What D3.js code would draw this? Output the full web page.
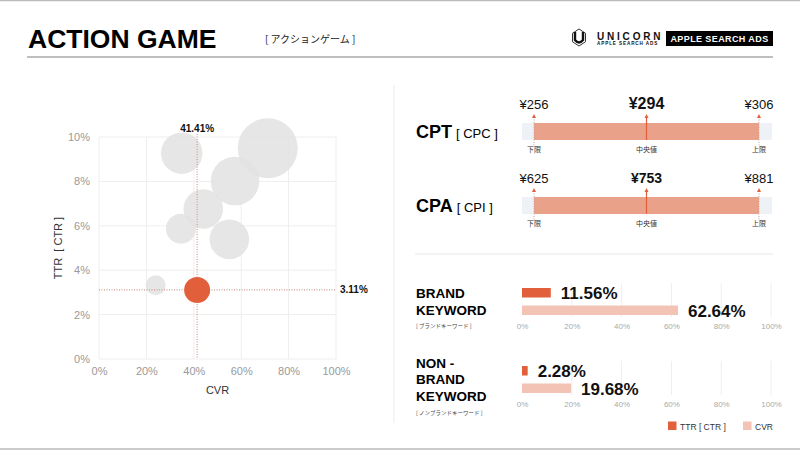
<!DOCTYPE html>
<html><head><meta charset="utf-8">
<script src="https://cdn.jsdelivr.net/npm/d3@7"></script>
<style>
html,body{margin:0;padding:0;background:#fff;}
svg{display:block;font-family:"Liberation Sans",Arial,Helvetica,sans-serif;}
.jp{font-family:"Noto Sans CJK JP","Liberation Sans",sans-serif;}
</style></head>
<body><svg id="c" width="800" height="450"></svg>
<script>
// ---------- DATA ----------
const bubbleCVR  = [71.2, 34.9, 57.4, 44.0, 34.6, 55.0, 23.9];
const bubbleTTR  = [9.49, 9.27, 8.02, 6.76, 5.87, 5.39, 3.32];
const bubbleSize = [900, 430, 590, 390, 225, 392, 100];
const focusCVR = 41.41, focusTTR = 3.11, focusSize = 169;
const xTicks = [0, 20, 40, 60, 80, 100];
const yTicks = [0, 2, 4, 6, 8, 10];

const costNames  = ["CPT", "CPA"];
const costSubs   = ["[ CPC ]", "[ CPI ]"];
const costLower  = [256, 625];
const costMedian = [294, 753];
const costUpper  = [306, 881];
const rangeLabels = ["下限", "中央値", "上限"];

const kwLines = [["BRAND", "KEYWORD"], ["NON -", "BRAND", "KEYWORD"]];
const kwSubs  = ["[ ブランドキーワード ]", "[ ノンブランドキーワード ]"];
const kwTTR   = [11.56, 2.28];
const kwCVR   = [62.64, 19.68];
const legendLabels = ["TTR [ CTR ]", "CVR"];

// ---------- STYLE ----------
const ORANGE = "#e1603b", SALMON = "#e9a18a", LIGHT = "#f3c3b5", GRAY = "#e2e2e2";
const svg = d3.select("#c");

// frame lines
svg.append("line").attr("x1",0).attr("x2",800).attr("y1",0.5).attr("y2",0.5).attr("stroke","#bbb").attr("stroke-width",1.5);
svg.append("line").attr("x1",0).attr("x2",800).attr("y1",449).attr("y2",449).attr("stroke","#bbb").attr("stroke-width",1.5);

// header
svg.append("text").attr("x",28).attr("y",48).attr("font-size",26.5).attr("font-weight","bold").attr("fill","#000").text("ACTION GAME");
svg.append("text").attr("class","jp").attr("x",265).attr("y",42.5).attr("font-size",10).attr("fill","#222").text("[ アクションゲーム ]");
svg.append("line").attr("x1",27).attr("x2",773).attr("y1",57).attr("y2",57).attr("stroke","#aaa").attr("stroke-width",1.5);

// logo
const hex = d3.range(6).map(i => { const a = Math.PI/3*i + Math.PI/6; return [579 + 7.5*Math.cos(a), 37.5 + 8.5*Math.sin(a)]; });
svg.append("polygon").attr("points", hex.map(p=>p.join(",")).join(" ")).attr("fill","none").attr("stroke","#333").attr("stroke-width",1);
svg.append("path").attr("d","M575,32 L575,40 Q579,45 583,40 L583,32").attr("fill","none").attr("stroke","#111").attr("stroke-width",2.4);
svg.append("text").attr("x",597).attr("y",39.5).attr("font-size",10).attr("font-weight","bold").attr("letter-spacing",2.8).attr("fill","#111").text("UNICORN");
svg.append("text").attr("x",597).attr("y",45).attr("font-size",4.6).attr("font-weight","bold").attr("letter-spacing",0.9).attr("fill","#111").text("APPLE SEARCH ADS");
svg.append("rect").attr("x",666).attr("y",31).attr("width",107).attr("height",15).attr("fill","#000");
svg.append("text").attr("x",719.5).attr("y",41.8).attr("text-anchor","middle").attr("font-size",9).attr("font-weight","bold").attr("letter-spacing",0.4).attr("fill","#fff").text("APPLE SEARCH ADS");

// ---------- SCATTER ----------
const x = d3.scaleLinear().domain([0,100]).range([99,336]);
const y = d3.scaleLinear().domain([0,10]).range([359,137]);
const r = d3.scaleSqrt().domain([0,900]).range([0,30]);
const sc = svg.append("g");
sc.selectAll(".gx").data(xTicks).join("line").attr("x1",d=>x(d)).attr("x2",d=>x(d)).attr("y1",y(10)).attr("y2",y(0)).attr("stroke","#eee");
sc.selectAll(".gy").data(yTicks).join("line").attr("x1",x(0)).attr("x2",x(100)).attr("y1",d=>y(d)).attr("y2",d=>y(d)).attr("stroke","#eee");
const xAxis = sc.append("g").attr("transform",`translate(0,${y(0)})`).call(d3.axisBottom(x).tickValues(xTicks).tickFormat(d=>d+"%").tickSize(0).tickPadding(9));
const yAxis = sc.append("g").attr("transform",`translate(${x(0)},0)`).call(d3.axisLeft(y).tickValues(yTicks).tickFormat(d=>d+"%").tickSize(0).tickPadding(9));
[xAxis,yAxis].forEach(a=>{a.select(".domain").remove(); a.selectAll("text").attr("font-size",11).attr("fill","#999").attr("font-family","Liberation Sans, Arial, sans-serif");});
xAxis.selectAll("text").attr("dy","0.6em");

const bubbles = bubbleCVR.map((v,i)=>({cvr:v, ttr:bubbleTTR[i], size:bubbleSize[i]}));
sc.selectAll(".b").data(bubbles).join("circle").attr("cx",d=>x(d.cvr)).attr("cy",d=>y(d.ttr)).attr("r",d=>r(d.size)).attr("fill",GRAY).attr("fill-opacity",0.85);
// reference lines
sc.append("line").attr("x1",x(focusCVR)).attr("x2",x(focusCVR)).attr("y1",y(10)-3).attr("y2",y(0)).attr("stroke","#d49a8c").attr("stroke-width",1.2).attr("stroke-dasharray","1,1.5");
sc.append("line").attr("x1",x(0)).attr("x2",x(100)).attr("y1",y(focusTTR)).attr("y2",y(focusTTR)).attr("stroke","#d49a8c").attr("stroke-width",1.2).attr("stroke-dasharray","1,1.5");
sc.append("circle").attr("cx",x(focusCVR)).attr("cy",y(focusTTR)).attr("r",r(focusSize)).attr("fill",ORANGE);
sc.append("text").attr("x",x(focusCVR)).attr("y",y(10)-5).attr("text-anchor","middle").attr("font-size",10).attr("font-weight","bold").attr("fill","#111").text(focusCVR.toFixed(2)+"%");
sc.append("text").attr("x",x(100)+4).attr("y",y(focusTTR)+3.5).attr("font-size",10).attr("font-weight","bold").attr("fill","#111").text(focusTTR.toFixed(2)+"%");
sc.append("text").attr("x",(x(0)+x(100))/2+0).attr("y",394).attr("text-anchor","middle").attr("font-size",11).attr("fill","#333").text("CVR");
sc.append("text").attr("transform",`translate(62,${(y(0)+y(10))/2}) rotate(-90)`).attr("text-anchor","middle").attr("font-size",11).attr("fill","#333").attr("xml:space","preserve").text("TTR  [ CTR ]");

// dividers
svg.append("line").attr("x1",394).attr("x2",394).attr("y1",85).attr("y2",423).attr("stroke","#f0f0f0").attr("stroke-width",1.2);
svg.append("line").attr("x1",415).attr("x2",773).attr("y1",254).attr("y2",254).attr("stroke","#efefef").attr("stroke-width",1.5);

// ---------- COST RANGES ----------
const pos = d3.scalePoint().domain(rangeLabels).range([534,759]);
const costRows = costNames.map((n,i)=>({name:n, sub:costSubs[i], vals:[costLower[i],costMedian[i],costUpper[i]], top: i===0?123:197}));
costRows.forEach(row=>{
  const g = svg.append("g");
  const cy = row.top + 8.5;
  const t = g.append("text").attr("x",416).attr("y",cy+6).attr("font-size",18).attr("font-weight","bold").attr("fill","#000");
  t.append("tspan").text(row.name);
  t.append("tspan").attr("font-size",13).attr("font-weight","normal").attr("dx",4).text(row.sub);
  g.append("rect").attr("x",522).attr("y",row.top).attr("width",250).attr("height",17).attr("fill","#eef1f5");
  g.append("rect").attr("x",pos(rangeLabels[0])).attr("y",row.top).attr("width",pos(rangeLabels[2])-pos(rangeLabels[0])).attr("height",17).attr("fill",SALMON);
  rangeLabels.forEach((lab,k)=>{
    const px = pos(lab);
    if(k===1){
      g.append("line").attr("x1",px).attr("x2",px).attr("y1",row.top-6).attr("y2",row.top+17).attr("stroke",ORANGE).attr("stroke-width",1.2);
    } else {
      g.append("line").attr("x1",px).attr("x2",px).attr("y1",row.top-6).attr("y2",row.top+24).attr("stroke","#c9a59b").attr("stroke-width",1).attr("stroke-dasharray","1,1.5");
    }
    g.append("path").attr("d",`M${px-2},${row.top-5} L${px},${row.top-9} L${px+2},${row.top-5} Z`).attr("fill",ORANGE);
    g.append("text").attr("class","jp").attr("x",px).attr("y",row.top+29).attr("text-anchor","middle").attr("font-size",7).attr("fill","#333").text(lab);
    g.append("text").attr("x",px).attr("y",row.top-14).attr("text-anchor","middle")
      .attr("font-size",k===1?(row.name==="CPT"?16:14):13).attr("font-weight",k===1?"bold":"normal").attr("fill","#111")
      .text("¥"+row.vals[k]);
  });
});

// ---------- KEYWORD BARS ----------
const kx = d3.scaleLinear().domain([0,100]).range([522,771]);
const kwRows = kwLines.map((l,i)=>({lines:l, sub:kwSubs[i], ttr:kwTTR[i], cvr:kwCVR[i], top: i===0?288:366}));
kwRows.forEach((row,i)=>{
  const g = svg.append("g");
  const labTop = i===0?293:362.7;
  row.lines.forEach((ln,j)=>{
    g.append("text").attr("x",416).attr("y",labTop+j*16.6+5).attr("font-size",13.5).attr("font-weight","bold").attr("fill","#000").text(ln);
  });
  g.append("text").attr("class","jp").attr("x",416).attr("y",labTop+row.lines.length*16.6+2).attr("font-size",5.5).attr("fill","#444").text(row.sub);
  g.selectAll(".grid").data(xTicks.slice(1)).join("line").attr("x1",d=>kx(d)).attr("x2",d=>kx(d)).attr("y1",row.top-5).attr("y2",row.top+29).attr("stroke","#eee");
  g.append("rect").attr("x",kx(0)).attr("y",row.top).attr("width",kx(row.ttr)-kx(0)).attr("height",9.5).attr("fill",ORANGE);
  g.append("rect").attr("x",kx(0)).attr("y",row.top+17.5).attr("width",kx(row.cvr)-kx(0)).attr("height",9.5).attr("fill",LIGHT);
  g.append("text").attr("x",kx(row.ttr)+10).attr("y",row.top+11).attr("font-size",17).attr("font-weight","bold").attr("fill","#111").text(row.ttr.toFixed(2)+"%");
  g.append("text").attr("x",kx(row.cvr)+10).attr("y",row.top+28.5).attr("font-size",17).attr("font-weight","bold").attr("fill","#111").text(row.cvr.toFixed(2)+"%");
  const ax = g.append("g").attr("transform",`translate(0,${row.top+35})`).call(d3.axisBottom(kx).tickValues(xTicks).tickFormat(d=>d+"%").tickSize(0).tickPadding(0));
  ax.select(".domain").remove();
  ax.selectAll("text").attr("font-size",8).attr("fill","#aaa").attr("font-family","Liberation Sans, Arial, sans-serif").attr("dy","0.7em");
});

// legend
const legColors = [ORANGE, LIGHT];
const legX = [668, 743];
legendLabels.forEach((l,i)=>{
  svg.append("rect").attr("x",legX[i]).attr("y",421.5).attr("width",8.5).attr("height",8.5).attr("fill",legColors[i]);
  svg.append("text").attr("x",legX[i]+12).attr("y",429.5).attr("font-size",8.5).attr("fill","#333").text(l);
});
</script></body></html>
